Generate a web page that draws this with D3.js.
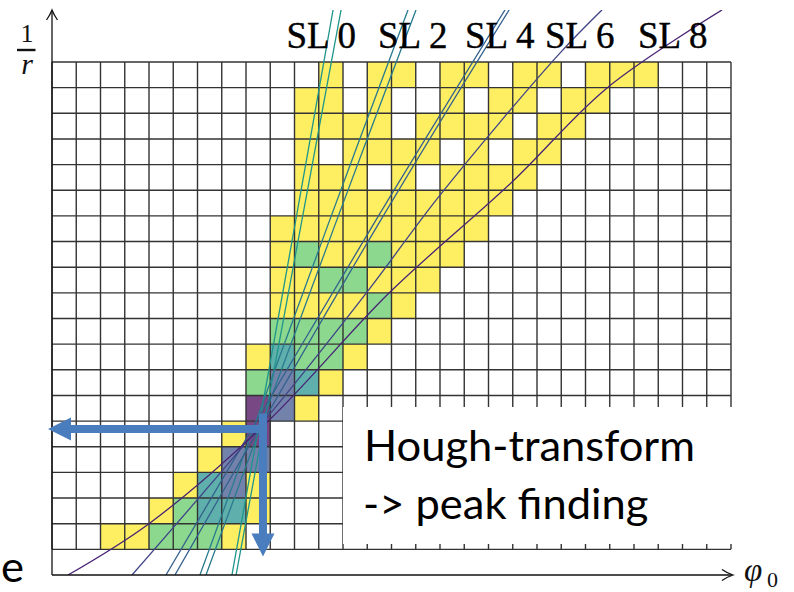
<!DOCTYPE html>
<html><head><meta charset="utf-8">
<script src="https://cdn.jsdelivr.net/npm/d3@7"></script>
<style>body{margin:0;background:#fff}svg{display:block}</style>
</head><body>
<svg id="c" width="794" height="592"></svg>
<script>
// ---- data ----
// Hough accumulator, rows from top (1/r high) to bottom; digit = level (0 empty, 1 yellow ... 5 peak)
const accumulatorRows = [
  "0000000000010110110110111000",
  "0000000000110100101101100000",
  "0000000000111101111011000000",
  "0000000000101111010110000000",
  "0000000000111010111100000000",
  "0000000000111111111000000000",
  "0000000001111111110000000000",
  "0000000001211211100000000000",
  "0000000001122111000000000000",
  "0000000001111210000000000000",
  "0000000002222100000000000000",
  "0000000013221000000000000000",
  "0000000024310000000000000000",
  "0000000054100000000000000000",
  "0000000150000000000000000000",
  "0000001440000000000000000000",
  "0000013410000000000000000000",
  "0000123310000000000000000000",
  "0011222100000000000000000000"
];
const nPhiBins = 28;
const superlayerLabels = ["SL 0", "SL 2", "SL 4", "SL 6", "SL 8"];
// hit curves in (phi0 bin, 1/r bin) units
const curveSL0a = [[7.42,0],[9.98,13.45],[11.59,22.03]];
const curveSL0b = [[7.59,0],[10.23,13.45],[11.92,22.03]];
const curveSL2a = [[6.10,0],[11.38,13.65],[14.68,22.03]];
const curveSL2b = [[6.35,0],[11.67,13.65],[15.01,22.03]];
const curveSL4a = [[4.70,0],[13.24,13.65],[18.68,22.03]];
const curveSL4b = [[5.07,0],[13.44,13.65],[18.85,22.03]];
const curveSL6  = [[3.30,0],[8.78,6.04],[12.99,11.03],[16.0,14.81],[20.87,20.27],[22.68,22.03]];
const curveSL8  = [[0.66,0],[4.04,2.03],[8.87,5.96],[13.94,11.03],[18.97,15.32],[22.89,18.99],[27.63,22.03]];
const curveSets = [
  {sl:0, pts:curveSL0a},{sl:0, pts:curveSL0b},
  {sl:2, pts:curveSL2a},{sl:2, pts:curveSL2b},
  {sl:4, pts:curveSL4a},{sl:4, pts:curveSL4b},
  {sl:6, pts:curveSL6},{sl:8, pts:curveSL8}
];
const peak = [8.70, 5.69];
const boxLines = ["Hough-transform", "-> peak finding"];

// ---- layout ----
const svg = d3.select("#c");
const x = d3.scaleLinear().domain([0, nPhiBins]).range([52, 731]);
const y = d3.scaleLinear().domain([0, 20]).range([575, 62]);
const levelColor = l => d3.interpolateViridis(1 - (l - 1) / 4);
const slColor = sl => d3.interpolateViridis(0.52 - sl * 0.053);

const cells = [];
accumulatorRows.forEach((row, r) => {
  row.padEnd(nPhiBins, "0").split("").forEach((ch, c) => {
    const v = +ch;
    if (v > 0) cells.push({c, bin: accumulatorRows.length - r, v});
  });
});

svg.append("g").selectAll("rect").data(cells).join("rect")
  .attr("x", d => x(d.c)).attr("y", d => y(d.bin + 1))
  .attr("width", d => x(d.c + 1) - x(d.c)).attr("height", d => y(d.bin) - y(d.bin + 1))
  .attr("fill", d => levelColor(d.v)).attr("fill-opacity", 0.72);

// grid
const grid = svg.append("g").attr("stroke", "#333").attr("stroke-width", 1.4);
d3.range(0, nPhiBins + 1).forEach(i => {
  grid.append("line").attr("x1", x(i)).attr("x2", x(i)).attr("y1", y(20)).attr("y2", y(1));
});
d3.range(1, 21).forEach(j => {
  grid.append("line").attr("x1", x(0)).attr("x2", x(nPhiBins)).attr("y1", y(j)).attr("y2", y(j));
});

// curves
svg.append("clipPath").attr("id", "clip").append("rect")
  .attr("x", 0).attr("y", y(22.03)).attr("width", 794).attr("height", y(0) - y(22.03));
const lineGen = d3.line().x(d => x(d[0])).y(d => y(d[1])).curve(d3.curveCatmullRom.alpha(0.5));
svg.append("g").attr("clip-path", "url(#clip)").selectAll("path").data(curveSets).join("path")
  .attr("d", d => lineGen(d.pts)).attr("fill", "none")
  .attr("stroke", d => slColor(d.sl)).attr("stroke-width", 1.3);

// axes
const ax = svg.append("g").attr("stroke", "#111").attr("stroke-width", 1.3).attr("fill", "none");
ax.append("line").attr("x1", x(0)).attr("x2", x(0)).attr("y1", y(0)).attr("y2", 11);
ax.append("path").attr("d", `M${x(0)-5.5},20 Q${x(0)-2},15 ${x(0)},10 Q${x(0)+2},15 ${x(0)+5.5},20`);
ax.append("line").attr("x1", x(0)).attr("x2", 732).attr("y1", y(0)).attr("y2", y(0));
ax.append("path").attr("d", `M722,${y(0)-5.5} Q727,${y(0)-2} 733,${y(0)} Q727,${y(0)+2} 722,${y(0)+5.5}`);

// SL labels
const labelX = [286.5, 378, 465, 545, 638];
svg.append("g").selectAll("text").data(superlayerLabels).join("text")
  .attr("x", (d, i) => labelX[i]).attr("y", 48)
  .attr("font-family", "Liberation Serif, serif").attr("font-size", 37).attr("fill", "#000")
  .attr("stroke", "#000").attr("stroke-width", 0.4)
  .text(d => d);

// axis titles
svg.append("text").attr("x", 27).attr("y", 42).attr("text-anchor", "middle")
  .attr("font-family", "Liberation Serif, serif").attr("font-size", 26).attr("fill", "#111").text("1");
svg.append("line").attr("x1", 17).attr("x2", 35.5).attr("y1", 50).attr("y2", 50)
  .attr("stroke", "#111").attr("stroke-width", 2.4);
svg.append("text").attr("x", 27).attr("y", 74).attr("text-anchor", "middle")
  .attr("font-family", "Liberation Serif, serif").attr("font-style", "italic").attr("font-size", 30).attr("fill", "#111").text("r");
svg.append("text").attr("x", 744).attr("y", 581)
  .attr("font-family", "Liberation Serif, serif").attr("font-style", "italic").attr("font-size", 33).attr("fill", "#111").text("φ");
svg.append("text").attr("x", 767).attr("y", 587)
  .attr("font-family", "Liberation Serif, serif").attr("font-size", 22).attr("fill", "#111").text("0");

// peak arrows
const px = x(peak[0]), py = y(peak[1]);
const blue = "#4a7dbd";
const hTip = x(0) - 4, vTip = y(0) - 18.5;
svg.append("path").attr("fill", blue).attr("d",
  `M${px+4},${py-4} L${hTip+23},${py-4} L${hTip+23},${py-11.5} L${hTip},${py} L${hTip+23},${py+11.5} L${hTip+23},${py+4} L${px+4},${py+4} Z`);
svg.append("path").attr("fill", blue).attr("d",
  `M${px-4},${py-15.5} L${px+4},${py-15.5} L${px+4},${vTip-23} L${px+11.5},${vTip-23} L${px},${vTip} L${px-11.5},${vTip-23} L${px-4},${vTip-23} Z`);

// text box
svg.append("rect").attr("x", 343).attr("y", 407).attr("width", 400).attr("height", 137).attr("fill", "#fff");
const t1 = svg.append("text").attr("x", 364).attr("y", 461)
  .attr("font-family", "Lato, sans-serif").attr("font-size", 44).attr("fill", "#000").text(boxLines[0]);
const w = t1.node().getComputedTextLength();
const fs = 44 * 331 / w;
t1.attr("font-size", fs);
svg.append("text").attr("x", 363).attr("y", 519)
  .attr("font-family", "Lato, sans-serif").attr("font-size", fs).attr("fill", "#000").text(boxLines[1]);
svg.append("text").attr("x", 1).attr("y", 582)
  .attr("font-family", "Lato, sans-serif").attr("font-size", fs).attr("fill", "#000").text("e");
</script>
</body></html>
